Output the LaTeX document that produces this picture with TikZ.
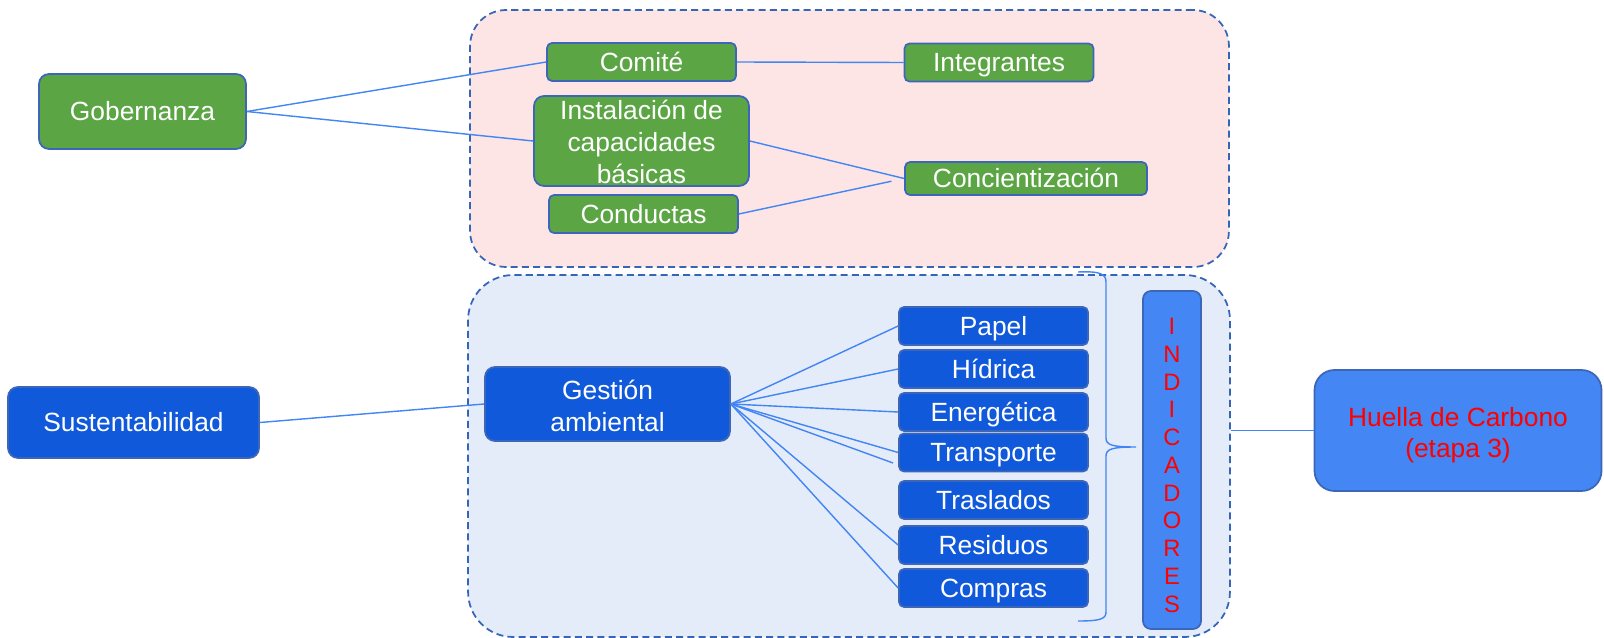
\documentclass[tikz,border=0pt]{standalone}
\usepackage{fontspec}
\setmainfont{Liberation Sans}
\usetikzlibrary{positioning}
\definecolor{boxgreen}{HTML}{5BA545}
\definecolor{boxblue}{HTML}{1159DB}
\definecolor{lightblue}{HTML}{4486F4}
\definecolor{boxedge}{HTML}{3D65B8}
\definecolor{areaedge}{HTML}{3565B6}
\definecolor{linkblue}{HTML}{4285F4}
\definecolor{pinkbg}{HTML}{FDE5E5}
\definecolor{bluebg}{HTML}{E5ECF9}

\begin{document}
\begin{tikzpicture}[x=0.02cm,y=-0.02cm,
  box/.style={draw=boxedge,line width=1pt,rounded corners=0.1cm,text=white,inner sep=0pt,align=center,font=\fontsize{15}{18}\selectfont},
  gbox/.style={box,fill=boxgreen,minimum width=3.78cm,minimum height=0.76cm,text height=10.7pt,text depth=0pt},
  bbox/.style={box,fill=boxblue,minimum width=3.78cm,minimum height=0.76cm,text height=10.7pt,text depth=0pt},
  area/.style={draw=areaedge,line width=1pt,dash pattern=on 4pt off 2.4pt,inner sep=0pt},
  link/.style={draw=linkblue,line width=0.8pt}]
  \useasboundingbox (0,0) rectangle (1604,638);
  \node[area,fill=pinkbg,minimum width=15.18cm,minimum height=5.14cm,rounded corners=0.72cm] (gobarea) at (849.5,138.5) {};
  \node[area,fill=bluebg,minimum width=15.24cm,minimum height=7.24cm,rounded corners=0.9cm] (sustarea) at (849,456) {};
  \node[gbox,minimum width=4.14cm,minimum height=1.5cm,rounded corners=0.2cm] (gob) at (142.5,111.5) {Gobernanza};
  \node[gbox] (comite) at (641.5,62) {Comité};
  \node[box,fill=boxgreen,minimum width=4.3cm,minimum height=1.8cm,rounded corners=0.2cm,font=\fontsize{15}{18.3}\selectfont] (inst) at (641.5,141) {\rule{0pt}{12pt}Instalación de\\capacidades\\básicas};
  \node[gbox] (cond) at (643.5,214) {Conductas};
  \node[gbox] (integ) at (999,62.5) {Integrantes};
  \node[gbox,minimum width=4.84cm,minimum height=0.66cm] (conc) at (1026,178.5) {Concientización};
  \node[bbox,minimum width=5.02cm,minimum height=1.42cm,rounded corners=0.2cm] (sust) at (133.5,422.5) {Sustentabilidad};
  \node[box,fill=boxblue,minimum width=4.9cm,minimum height=1.48cm,rounded corners=0.2cm] (gest) at (607.5,404) {\rule{0pt}{13.5pt}Gestión\\ambiental};
  \node[bbox] (papel) at (993.5,326) {Papel};
  \node[bbox] (hidrica) at (993.5,369) {Hídrica};
  \node[bbox] (energia) at (993.5,412) {Energética};
  \node[bbox] (transp) at (993.5,452.5) {Transporte};
  \node[bbox] (trasl) at (993.5,500) {Traslados};
  \node[bbox] (resid) at (993.5,545) {Residuos};
  \node[bbox] (compras) at (993.5,588) {Compras};
  \node[box,fill=lightblue,text=red,minimum width=1.16cm,minimum height=6.76cm,rounded corners=0.16cm,font=\fontsize{13.5}{15.8}\selectfont] (indic) at (1172,460) {\rule{0pt}{15.3pt}I\\N\\D\\I\\C\\A\\D\\O\\R\\E\\S};
  \node[box,fill=lightblue,text=red,minimum width=5.74cm,minimum height=2.42cm,rounded corners=0.4cm,font=\fontsize{15}{17.4}\selectfont] (huella) at (1458,430.5) {\rule{0pt}{16.2pt}Huella de Carbono\\(etapa 3)};
  \coordinate (transp2) at (893,463);
  \draw[link] (gob.east) -- (comite.west);
  \draw[link] (gob.east) -- (inst.west);
  \draw[link] (comite.east) -- (integ.west);
  \draw[link] (inst.east) -- (conc.west);
  \draw[link,shorten >=0.26cm] (cond.east) -- (conc.west);
  \draw[link] (sust.east) -- (gest.west);
  \draw[link] (gest.east) -- (papel.west);
  \draw[link] (gest.east) -- (hidrica.west);
  \draw[link] (gest.east) -- (energia.west);
  \draw[link] (gest.east) -- (transp.west);
  \draw[link] (gest.east) -- (transp2);
  \draw[link] (gest.east) -- (resid.west);
  \draw[link] (gest.east) -- (compras.west);
  \draw[link] (huella.west) -- (huella.west -| sustarea.east);
  \draw[link] (1078,272) .. controls (1100,271) and (1106,274) .. (1106,282) -- (1106,438)
    .. controls (1106,445) and (1112,447) .. (1136,447)
    .. controls (1112,447) and (1106,449) .. (1106,456) -- (1106,612)
    .. controls (1106,619) and (1100,621) .. (1078,621);
\end{tikzpicture}
\end{document}
